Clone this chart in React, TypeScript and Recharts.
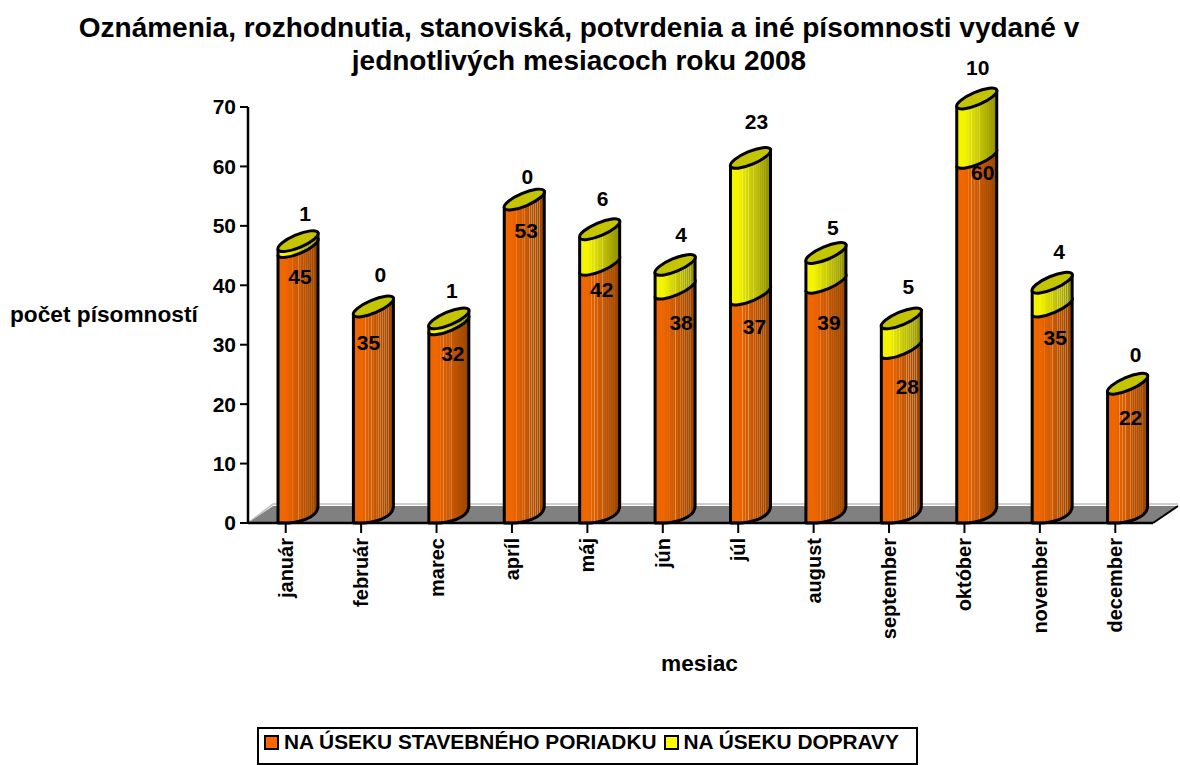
import { BarChart, Bar, XAxis, YAxis, LabelList } from 'recharts'

const months = ['január', 'február', 'marec', 'apríl', 'máj', 'jún', 'júl', 'august', 'september', 'október', 'november', 'december']
const stavebny = [45, 35, 32, 53, 42, 38, 37, 39, 28, 60, 35, 22]
const doprava = [1, 0, 1, 0, 6, 4, 23, 5, 5, 10, 4, 0]
const yTicks = [0, 10, 20, 30, 40, 50, 60, 70]
const seriesNames = ['NA ÚSEKU STAVEBNÉHO PORIADKU', 'NA ÚSEKU DOPRAVY']

const chartData = months.map((month, i) => ({ month, stavebny: stavebny[i], doprava: doprava[i] }))

const FONT = '"Liberation Sans", Arial, sans-serif'
const PLOT = { left: 248, right: 1153, top: 107, bottom: 523 }
const SHIFT = 12 // bars sit towards the back of the 3d floor
const DEPTH = 17
const RY = 6.5

// hand placed labels, same as in the original (dx, dy from default spot)
const orangeNudge = [[2, 21], [-5, 27], [4, 21], [2, 22], [2, 16], [6, 25], [4, 23], [3, 31], [6, 30], [6, 6], [3, 22], [3, 25]]
const yellowNudge = [[7, -36], [7, -41], [3, -36], [3, -32], [3, -39], [6, -39], [6, -45], [7, -34], [7, -40], [1, -40], [7, -40], [8, -38]]

type RGB = [number, number, number]
const mix = (a: RGB, b: RGB, t: number) => `rgb(${a.map((v, i) => Math.round(v + (b[i] - v) * t)).join(',')})`

// cylinder shading: bright left side fading to dark right side, with thin light streaks
function cylinderGradient(id: string, left: RGB, right: RGB) {
  const lines = [30, 37, 45, 51, 57, 63, 68, 73, 78, 83, 88]
  const white: RGB = [255, 255, 255]
  const base = (p: number) => {
    const t = p < 20 ? 0 : (p - 20) / 80
    return [0, 1, 2].map((i) => left[i] + (right[i] - left[i]) * t) as RGB
  }
  return (
    <linearGradient id={id} x1="0" y1="0" x2="1" y2="0">
      <stop offset="0%" stopColor={mix(left, right, 0)} />
      <stop offset="20%" stopColor={mix(left, right, 0)} />
      {lines.flatMap((p) => [
        <stop key={p + 'a'} offset={`${p - 1.2}%`} stopColor={mix(base(p - 1.2), white, 0)} />,
        <stop key={p + 'b'} offset={`${p}%`} stopColor={mix(base(p), white, 0.35)} />,
        <stop key={p + 'c'} offset={`${p + 1.2}%`} stopColor={mix(base(p + 1.2), white, 0)} />,
      ])}
      <stop offset="100%" stopColor={mix(right, right, 0)} />
    </linearGradient>
  )
}

function ellipseArc(w: number) {
  const rx = Math.hypot(w, DEPTH) / 2
  const rot = (Math.atan2(-DEPTH, w) * 180) / Math.PI
  return { rx, rot }
}

function OrangeBar(props: any) {
  const x = props.x + SHIFT
  const { y, width: w, height: h } = props
  const yb = y + h
  const d = `M${x},${y} L${x},${yb} C${x + w * 0.5},${yb + 1} ${x + w},${yb - DEPTH * 0.3} ${x + w},${yb - DEPTH} L${x + w},${y - DEPTH} Z`
  return <path d={d} fill="url(#orangeGrad)" stroke="#000" strokeWidth={3} strokeLinejoin="round" />
}

function YellowBar(props: any) {
  const x = props.x + SHIFT
  const { y, width: w, height: h } = props
  const yb = y + h
  const { rx, rot } = ellipseArc(w)
  const cap = `M${x},${y} A${rx},${RY} ${rot} 1 1 ${x + w},${y - DEPTH} A${rx},${RY} ${rot} 1 1 ${x},${y} Z`
  const body = `M${x},${y} L${x},${yb} A${rx},${RY} ${rot} 0 0 ${x + w},${yb - DEPTH} L${x + w},${y - DEPTH} Z`
  return (
    <g>
      {h > 0 && <path d={body} fill="url(#yellowGrad)" stroke="#000" strokeWidth={3} strokeLinejoin="round" />}
      <path d={cap} fill="#c4c400" stroke="#000" strokeWidth={3} />
    </g>
  )
}

function Floor() {
  const { left, right, bottom } = PLOT
  const dx = 25
  const dy = 17
  return (
    <g>
      <path d={`M${left},${bottom} L${left + dx},${bottom - dy - 2} L${right + dx},${bottom - dy - 2}`} fill="none" stroke="#c0c0c0" strokeWidth={1.5} />
      <path d={`M${left},${bottom} L${left + dx},${bottom - dy} L${right + dx},${bottom - dy} L${right},${bottom} Z`} fill="#808080" />
      <line x1={right} y1={bottom} x2={right + dx} y2={bottom - dy} stroke="#000" strokeWidth={2} />
    </g>
  )
}

function makeLabel(nudge: number[][]) {
  return function BarLabel(props: any) {
    const { x, y, width, value, index } = props
    const [dx, dy] = nudge[index]
    return (
      <text x={x + width / 2 + SHIFT + dx} y={y + dy} textAnchor="middle" dominantBaseline="central" fontFamily={FONT} fontWeight="bold" fontSize={21} fill="#000">
        {value}
      </text>
    )
  }
}

function MonthTick({ x, y, payload }: any) {
  return (
    <text transform={`translate(${x + 7},${y + 3}) rotate(-90)`} textAnchor="end" fontFamily={FONT} fontWeight="bold" fontSize={20} fill="#000">
      {payload.value}
    </text>
  )
}

export default function App() {
  const legendColors = ['#ff6600', '#ffff00']
  return (
    <div style={{ position: 'absolute', left: 0, top: 0, width: 1180, height: 765, fontFamily: FONT, background: '#fff', overflow: 'hidden' }}>
      <BarChart
        width={1180}
        height={765}
        data={chartData}
        barSize={40}
        margin={{ left: PLOT.left - 60, right: 1180 - PLOT.right, top: PLOT.top, bottom: 765 - PLOT.bottom - 60 }}
      >
        <defs>
          {cylinderGradient('orangeGrad', [238, 102, 0], [150, 68, 0])}
          {cylinderGradient('yellowGrad', [244, 244, 0], [140, 140, 0])}
        </defs>
        <Floor />
        <XAxis
          dataKey="month"
          height={60}
          interval={0}
          tick={<MonthTick />}
          tickSize={10}
          axisLine={{ stroke: '#000', strokeWidth: 2.5 }}
          tickLine={{ stroke: '#000', strokeWidth: 2 }}
          scale="band"
        />
        <YAxis
          width={60}
          domain={[0, 70]}
          ticks={yTicks}
          interval={0}
          tickSize={8}
          tickMargin={4}
          axisLine={{ stroke: '#000', strokeWidth: 2.5 }}
          tickLine={{ stroke: '#000', strokeWidth: 2 }}
          tick={{ fontFamily: FONT, fontWeight: 'bold', fontSize: 21, fill: '#000' }}
        />
        <Bar dataKey="stavebny" stackId="a" shape={<OrangeBar />} isAnimationActive={false}>
          <LabelList dataKey="stavebny" content={makeLabel(orangeNudge)} />
        </Bar>
        <Bar dataKey="doprava" stackId="a" shape={<YellowBar />} isAnimationActive={false}>
          <LabelList dataKey="doprava" content={makeLabel(yellowNudge)} />
        </Bar>
      </BarChart>

      <div style={{ position: 'absolute', left: 0, width: 1158, top: 11, textAlign: 'center', fontWeight: 'bold', fontSize: 28, lineHeight: '33px', color: '#000', whiteSpace: 'nowrap' }}>
        Oznámenia, rozhodnutia, stanoviská, potvrdenia a iné písomnosti vydané v
        <br />
        jednotlivých mesiacoch roku 2008
      </div>
      <div style={{ position: 'absolute', left: 10, top: 301, fontWeight: 'bold', fontSize: 22.7, color: '#000', whiteSpace: 'nowrap' }}>počet písomností</div>
      <div style={{ position: 'absolute', left: 661, top: 650, fontWeight: 'bold', fontSize: 22.7, color: '#000' }}>mesiac</div>

      <div style={{ position: 'absolute', left: 257, top: 727, width: 661, height: 38, boxSizing: 'border-box', border: '2.5px solid #000', display: 'flex', alignItems: 'flex-start', paddingTop: 1, paddingLeft: 5, fontWeight: 'bold', fontSize: 20.85, color: '#000', whiteSpace: 'nowrap' }}>
        {seriesNames.map((name, i) => (
          <span key={name} style={{ display: 'inline-flex', alignItems: 'center', marginRight: 7 }}>
            <span style={{ width: 11, height: 11, background: legendColors[i], border: '2px solid #000', marginRight: 5 }} />
            {name}
          </span>
        ))}
      </div>
    </div>
  )
}
